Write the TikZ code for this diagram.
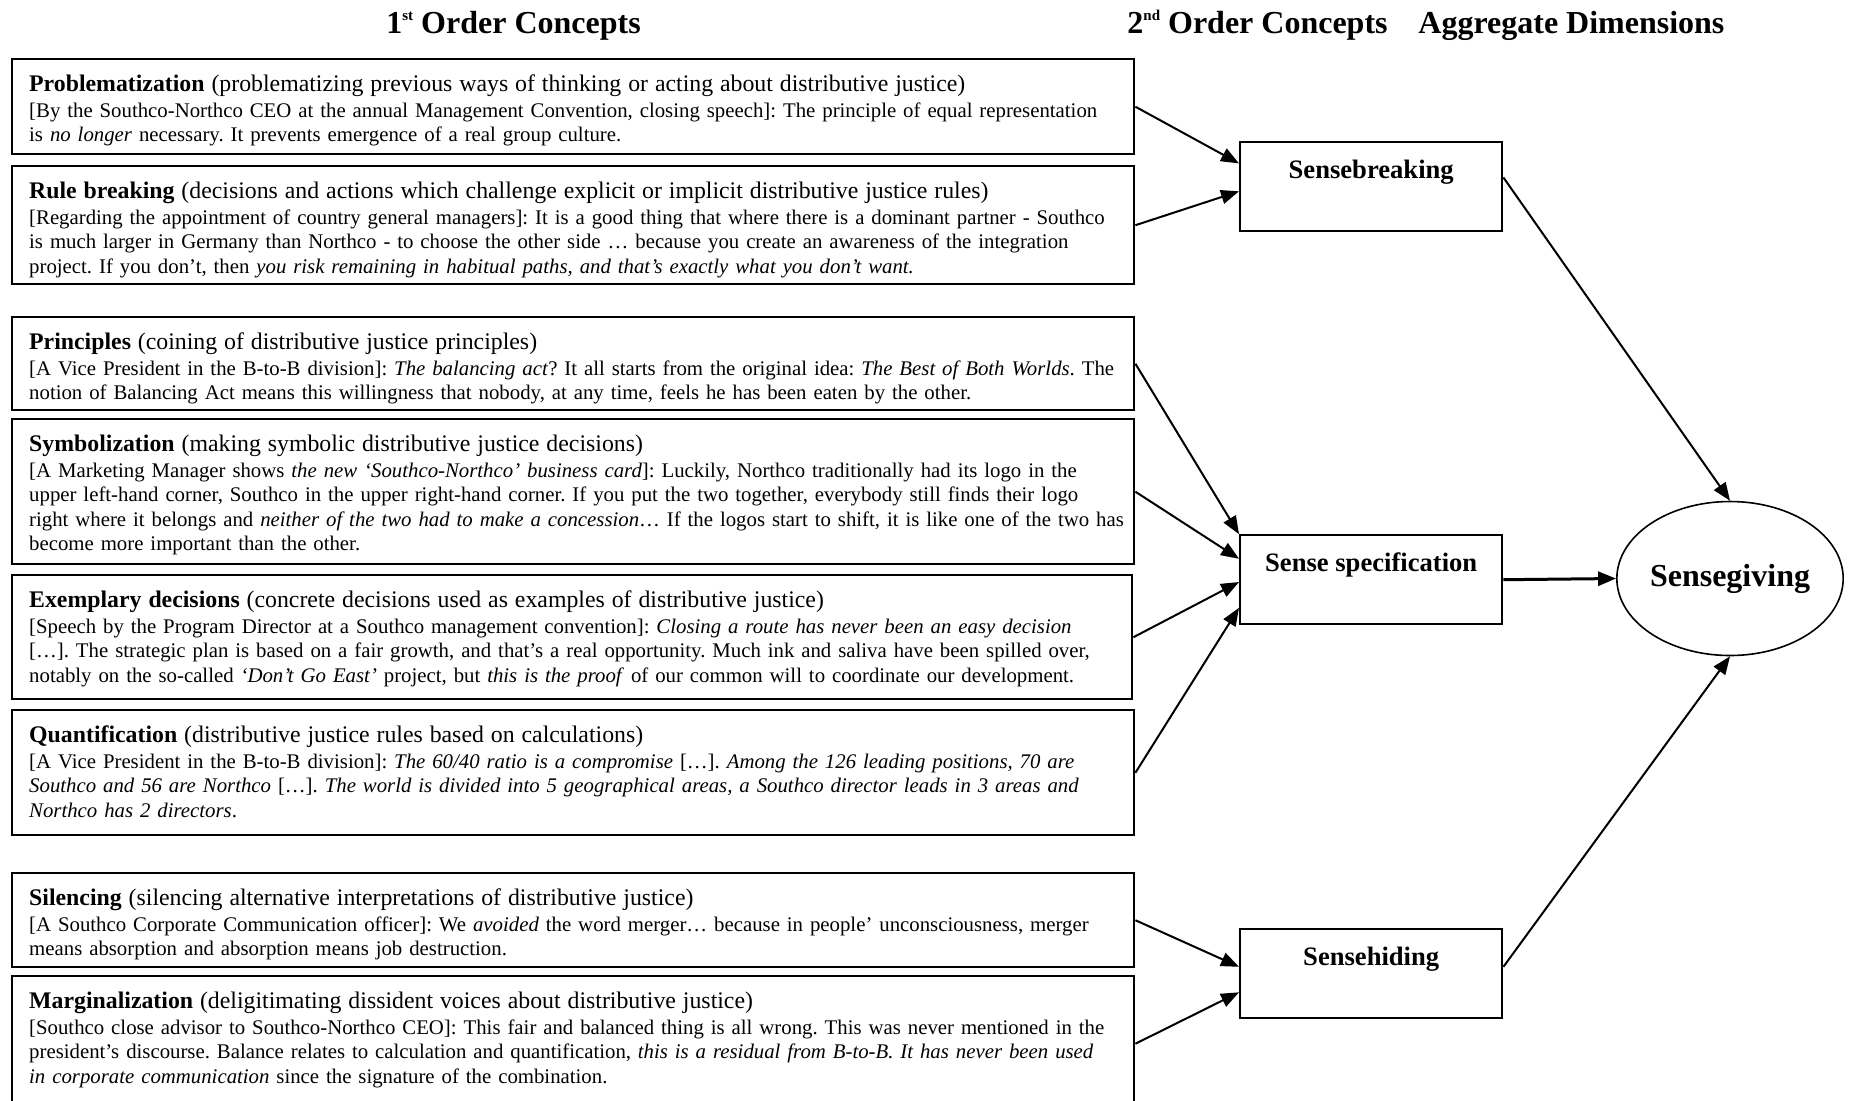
\documentclass[tikz,border=0pt]{standalone}
\usepackage{fontspec}
\setmainfont{Liberation Serif}
\usetikzlibrary{arrows.meta,shapes.geometric}
\frenchspacing

% title line of a first order concept
\newcommand{\ctitle}[2]{{\fontsize{11.9}{13}\selectfont\textbf{#1} (#2)}\\[0.75pt]}
% small raised ordinal in the headers
\newcommand{\ord}[1]{\raisebox{6.5pt}{\fontsize{7.5}{8}\selectfont #1}}

\begin{document}
\begin{tikzpicture}[x=0.5pt, y=-0.5pt,
    concept/.style={draw, line width=1.2pt, anchor=north west, align=left,
        text width=544pt, inner xsep=8.5pt, inner ysep=0pt, text height=16pt,
        font=\fontsize{10.4}{12.25}\selectfont},
    theme/.style={draw, line width=1.2pt, anchor=north west, minimum width=131pt,
        inner sep=0pt, text height=18pt, text depth=26.5pt,
        font=\fontsize{13.3}{16}\selectfont\bfseries},
    dimension/.style={draw, ellipse, line width=0.8pt, minimum width=113pt,
        minimum height=77pt, inner sep=0pt, font=\fontsize{16}{19}\selectfont\bfseries},
    header/.style={anchor=base west, inner sep=0pt, font=\fontsize{16}{19}\selectfont\bfseries},
    link/.style={-{Triangle[length=9pt, width=7pt]}, line width=1pt}]

\useasboundingbox (0,0) rectangle (1855,1100);

% Column headers
\node[header] (head1) at (386,33) {1\ord{st} Order Concepts};
\node[header] (head2) at (1127,33) {2\ord{nd} Order Concepts};
\node[header] (head3) at (1418,33) {Aggregate Dimensions};

% 1st order concepts
\node[concept, text depth=31.5pt] (prob) at (11,58) {%
    \ctitle{Problematization}{problematizing previous ways of thinking or acting about distributive justice}
    [By the Southco-Northco CEO at the annual Management Convention, closing speech]: The principle of equal representation\\
    is \emph{no longer} necessary. It prevents emergence of a real group culture.};

\node[concept, text depth=43pt] (rule) at (11,165) {%
    \ctitle{Rule breaking}{decisions and actions which challenge explicit or implicit distributive justice rules}
    [Regarding the appointment of country general managers]: It is a good thing that where there is a dominant partner - Southco\\
    is much larger in Germany than Northco - to choose the other side … because you create an awareness of the integration\\
    project. If you don’t, then \emph{you risk remaining in habitual paths, and that’s exactly what you don’t want.}};

\node[concept, text depth=30.5pt] (princ) at (11,316) {%
    \ctitle{Principles}{coining of distributive justice principles}
    \mbox{[A Vice President in the B-to-B division]: \emph{The balancing act}? It all starts from the original idea: \emph{The Best of Both Worlds}. The}\\
    notion of Balancing Act means this willingness that nobody, at any time, feels he has been eaten by the other.};

\node[concept, text depth=56.5pt] (symb) at (11,418) {%
    \ctitle{Symbolization}{making symbolic distributive justice decisions}
    [A Marketing Manager shows \emph{the new ‘Southco-Northco’ business card}]: Luckily, Northco traditionally had its logo in the\\
    upper left-hand corner, Southco in the upper right-hand corner. If you put the two together, everybody still finds their logo\\
    \mbox{right where it belongs and \emph{neither of the two had to make a concession}… If the logos start to shift, it is like one of the two has}\\
    become more important than the other.};

\node[concept, text depth=46pt, text width=543pt] (exem) at (11,574) {%
    \ctitle{Exemplary decisions}{concrete decisions used as examples of distributive justice}
    [Speech by the Program Director at a Southco management convention]: \emph{Closing a route has never been an easy decision}\\
    {[}…]. The strategic plan is based on a fair growth, and that’s a real opportunity. Much ink and saliva have been spilled over,\\
    notably on the so-called \emph{‘Don’t Go East’} project, but \emph{this is the proof} of our common will to coordinate our development.};

\node[concept, text depth=46.5pt] (quant) at (11,709) {%
    \ctitle{Quantification}{distributive justice rules based on calculations}
    [A Vice President in the B-to-B division]: \emph{The 60/40 ratio is a compromise} […]. \emph{Among the 126 leading positions, 70 are}\\
    \emph{Southco and 56 are Northco} […]. \emph{The world is divided into 5 geographical areas, a Southco director leads in 3 areas and}\\
    \emph{Northco has 2 directors}.};

\node[concept, text depth=31pt] (silen) at (11,872) {%
    \ctitle{Silencing}{silencing alternative interpretations of distributive justice}
    [A Southco Corporate Communication officer]: We \emph{avoided} the word merger… because in people’ unconsciousness, merger\\
    means absorption and absorption means job destruction.};

\node[concept, text depth=51.5pt] (marg) at (11,975) {%
    \ctitle{Marginalization}{deligitimating dissident voices about distributive justice}
    [Southco close advisor to Southco-Northco CEO]: This fair and balanced thing is all wrong. This was never mentioned in the\\
    president’s discourse. Balance relates to calculation and quantification, \emph{this is a residual from B-to-B. It has never been used}\\
    \emph{in corporate communication} since the signature of the combination.};

% 2nd order concepts
\node[theme] (sb) at (1239,141) {Sensebreaking};
\node[theme] (ss) at (1239,534) {Sense specification};
\node[theme] (sh) at (1239,928) {Sensehiding};

% Aggregate dimension
\node[dimension] (sg) at (1730,578.5) {Sensegiving};

% Links
\draw[link] (prob.east) -- (sb.170);
\draw[link] (rule.east) -- (sb.182);
\draw[link] (princ.east) -- (ss.161);
\draw[link] (symb.east) -- (ss.171);
\draw[link] (exem.east) -- (ss.181);
\draw[link] (quant.east) -- (ss.192);
\draw[link] (silen.east) -- (sh.177);
\draw[link] (marg.east) -- (sh.188);

\draw[link] (sb.4) -- (sg.north);
\draw[link, line width=1.5pt] (ss.east) -- (sg.west);
\draw[link] (sh.3) -- (sg.south);

\end{tikzpicture}
\end{document}
